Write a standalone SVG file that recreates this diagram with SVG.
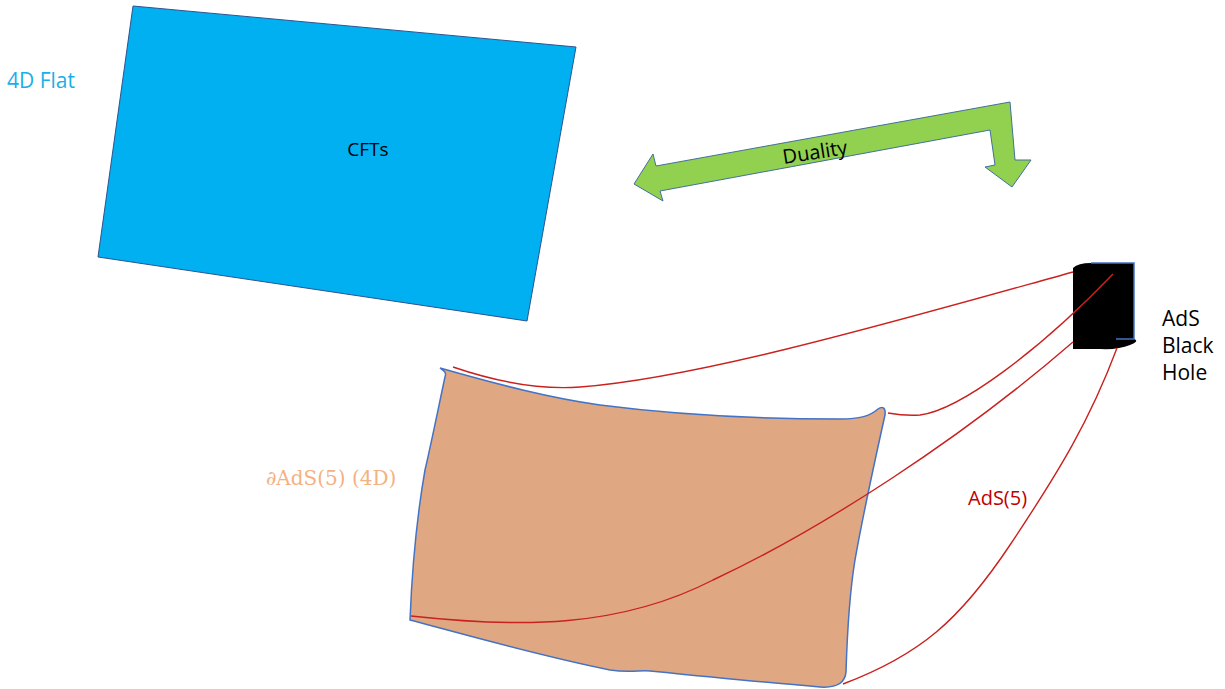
<svg xmlns="http://www.w3.org/2000/svg" width="1225" height="689" viewBox="0 0 1225 689">
<style>
.t{font-family:"Open Sans","Liberation Sans",sans-serif}
.red{fill:none;stroke:#C9211E;stroke-width:1.4}
</style>
<rect width="1225" height="689" fill="#fff"/>
<g id="flat4d">
<polygon points="133,6 576,47 527,321 98,257" fill="#00B0F0" stroke="#2F528F" stroke-width="1"/>
<text class="t" x="368" y="156" font-size="19" text-anchor="middle" fill="#000">CFTs</text>
</g>
<text id="label4dflat" class="t" x="7" y="88" font-size="21" fill="#1AAFE6">4D Flat</text>
<g id="boundary">
<path d="M440,368 C443,370 447,372 445,377 C440,400 432,440 425,470 C418,510 412,570 410,620 C470,636 540,656 610,670 C630,673 640,670 650,671 C700,676 760,682 820,687 C835,688 845,684 846,672 C847,640 850,590 855,560 C862,520 875,460 885,415 C886,407 882,406 878,409 C870,416 860,419 840,419 C740,419 670,414 600,405 C550,398 500,385 440,368 Z" fill="#DFA883" stroke="#4472C4" stroke-width="1.5"/>
<text x="266" y="485" font-family="'DejaVu Serif',serif" font-size="20" fill="#F4B183">∂AdS(5) (4D)</text>
</g>
<g id="blackhole">
<path d="M1073,268 Q1078,263 1091,263 L1134,263 L1134,339 Q1140,341 1130,345 Q1118,350 1100,349 L1073,349 Z" fill="#000"/>
<path d="M1091,263 L1134,263 L1134,339 L1116,339" fill="none" stroke="#4472C4" stroke-width="1.5"/>
<text class="t" font-size="21" fill="#000"><tspan x="1162" y="326">AdS</tspan><tspan x="1162" y="353">Black</tspan><tspan x="1162" y="380">Hole</tspan></text>
</g>
<g id="connectors">
<path class="red" d="M453,367 C500,383 540,390 580,387 C700,378 900,320 1073,272"/>
<path class="red" d="M411,616 C520,628 620,628 713,580 C820,530 960,440 1073,342"/>
<path class="red" d="M888,413 Q905,416 920,415 C960,410 1040,350 1113,274"/>
<path class="red" d="M843,684 C920,655 960,620 1010,545 C1060,470 1090,420 1117,348"/>
</g>
<text id="ads5" class="t" x="968" y="505" font-size="20" fill="#C00000">AdS(5)</text>
<g id="duality">
<polygon points="634,184 653,154 656,166 1010,102 1015,160 1031,160 1012,187 985,167 995,165 990,130 660,191 663,201" fill="#92D050" stroke="#41719C" stroke-width="1"/>
<text class="t" x="816" y="159" font-size="20" text-anchor="middle" fill="#000" transform="rotate(-9 816 159)">Duality</text>
</g>
</svg>
